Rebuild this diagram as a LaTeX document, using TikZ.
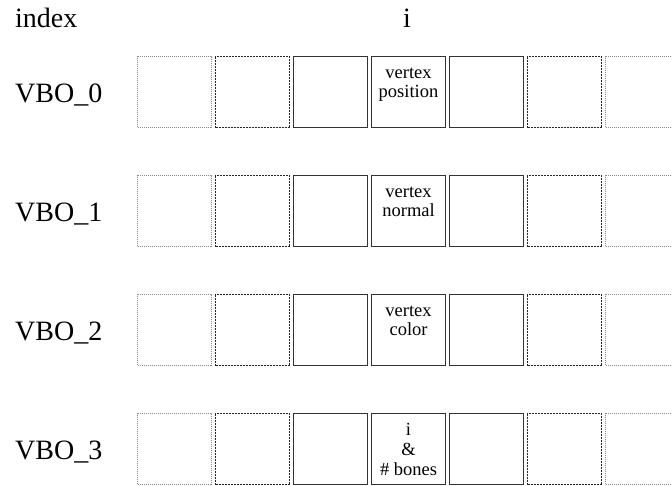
\documentclass[tikz,border=0pt]{standalone}
\usepackage{fontspec}
\setmainfont{Liberation Serif}
\usepackage{tikz}

\tikzset{
  cell/.style={draw,minimum width=74pt,minimum height=71pt,inner sep=0pt,anchor=north west},
  cellouter/.style={cell,draw=black!45,densely dotted,line width=1pt},
  cellinner/.style={cell,draw=black!85,dash pattern=on 2pt off 1pt,line width=1pt},
  cellmid/.style={cell,draw=black!80,line width=1.1pt},
  biglabel/.style={font=\fontsize{28}{30}\selectfont,inner sep=0pt},
  celltext/.style={font=\fontsize{18.5}{19}\selectfont,align=center,inner sep=0pt,anchor=north}
}

\begin{document}
\begin{tikzpicture}[x=1pt,y=-1pt]
\useasboundingbox (0,0) rectangle (672,485);
\clip (0,0) rectangle (672,485);
\node[biglabel,anchor=base west] (index) at (15,27) {index};
\node[biglabel,anchor=base] (idx) at (407,27) {i};
\foreach \r in {0,...,3}{
  \node[biglabel,anchor=base west] (vbo\r) at (15,102+119*\r) {VBO\_\r};
  \foreach \c/\s in {0/cellouter,1/cellinner,2/cellmid,3/cellmid,4/cellmid,5/cellinner,6/cellouter}
    \node[\s] (v\r-\c) at (137+78*\c,56+119*\r) {};
}
\node[celltext] (pos) at ([yshift=-12pt]v0-3.north) {vertex\\position};
\node[celltext] (nrm) at ([yshift=-12pt]v1-3.north) {vertex\\normal};
\node[celltext] (col) at ([yshift=-12pt]v2-3.north) {vertex\\color};
\node[celltext,font=\fontsize{18.5}{20}\selectfont] (bones) at ([yshift=-10pt]v3-3.north) {i\\\&\\\# bones};
\end{tikzpicture}
\end{document}
